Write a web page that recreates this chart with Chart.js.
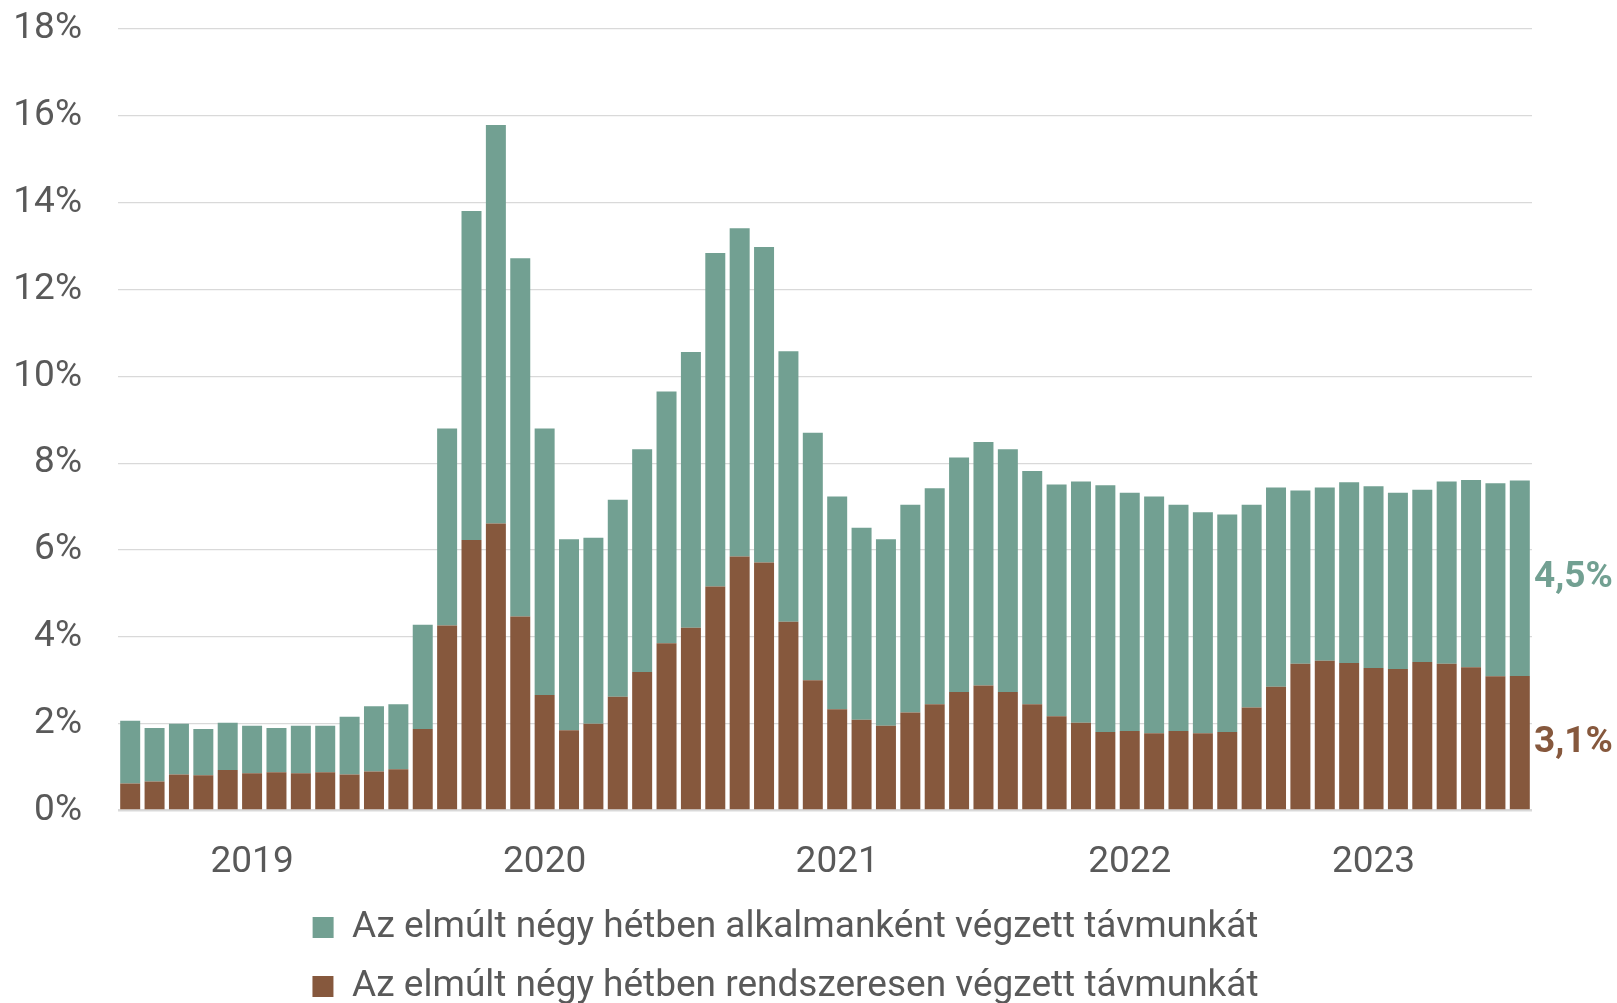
<!DOCTYPE html>
<html lang="hu">
<head>
<meta charset="utf-8">
<title>Távmunka</title>
<script src="https://cdn.jsdelivr.net/npm/chart.js@4.4.0/dist/chart.umd.min.js"></script>
<style>
  html, body { margin: 0; padding: 0; background: #fff; overflow: hidden; }
  #doboz { position: relative; width: 1617px; height: 1015px; }
</style>
</head>
<body>
<div id="doboz"><canvas id="myChart"></canvas></div>
<script>
// evek es a honapok, ahol a felirat all
var evek = ['2019', '2020', '2021', '2022', '2023'];
var evHelye = [5, 17, 29, 41, 51];

// rendszeresen vegzett tavmunka (%)
var rendszeres = [0.62, 0.67, 0.83, 0.81, 0.93, 0.86, 0.88, 0.86, 0.88, 0.83, 0.90, 0.95,
	1.88, 4.26, 6.23, 6.61, 4.47, 2.66, 1.85, 2.00, 2.62, 3.19, 3.85, 4.21,
	5.16, 5.85, 5.71, 4.35, 3.00, 2.33, 2.09, 1.95, 2.26, 2.45, 2.73, 2.88,
	2.73, 2.45, 2.17, 2.02, 1.81, 1.83, 1.78, 1.83, 1.78, 1.81, 2.37, 2.85,
	3.38, 3.45, 3.40, 3.28, 3.26, 3.42, 3.38, 3.30, 3.09, 3.1];

// alkalmankent vegzett tavmunka (%)
var alkalmi = [1.45, 1.23, 1.17, 1.07, 1.09, 1.09, 1.02, 1.09, 1.07, 1.33, 1.50, 1.50,
	2.40, 4.54, 7.58, 9.18, 8.25, 6.14, 4.40, 4.28, 4.54, 5.13, 5.80, 6.35,
	7.68, 7.56, 7.27, 6.23, 5.70, 4.90, 4.42, 4.30, 4.78, 4.97, 5.40, 5.61,
	5.59, 5.37, 5.34, 5.56, 5.68, 5.49, 5.45, 5.21, 5.09, 5.01, 4.67, 4.59,
	3.99, 3.99, 4.16, 4.19, 4.06, 3.97, 4.20, 4.31, 4.45, 4.5];

var yTickek = [0, 2, 4, 6, 8, 10, 12, 14, 16, 18];

var ZOLD = '#72a092';
var BARNA = '#86583d';
var SZURKE = '#595959';
var BETU = 37;

var cimkek = [];
for (var i = 0; i < rendszeres.length; i++) {
	cimkek[i] = '';
}
for (var j = 0; j < evek.length; j++) {
	cimkek[evHelye[j]] = evek[j];
}

function szazalek(v) {
	return v.toFixed(1).replace('.', ',') + '%';
}

// utolso oszlop ertekei jobbra, a szegmensek kozepen
var vegCimkek = {
	id: 'vegCimkek',
	afterLayout: function(chart) {
		// jelmagyarazat kicsit jobbra
		chart.legend.left += 12;
		chart.legend.right += 12;
	},
	afterDatasetsDraw: function(chart) {
		var ctx = chart.ctx;
		ctx.save();
		ctx.font = 'bold ' + BETU + 'px Roboto';
		ctx.textAlign = 'left';
		ctx.textBaseline = 'middle';
		chart.data.datasets.forEach(function(ds, k) {
			var meta = chart.getDatasetMeta(k);
			var n = ds.data.length - 1;
			var el = meta.data[n];
			ctx.fillStyle = ds.backgroundColor;
			ctx.fillText(szazalek(ds.data[n]), chart.chartArea.right + 2, (el.y + el.base) / 2);
		});
		ctx.restore();
	}
};

Chart.defaults.font.family = 'Roboto';
Chart.defaults.color = SZURKE;

var ctx = document.getElementById('myChart');
var myChart = new Chart(ctx, {
	type: 'bar',
	data: {
		labels: cimkek,
		datasets: [{
			label: 'Az elmúlt négy hétben rendszeresen végzett távmunkát',
			data: rendszeres,
			backgroundColor: BARNA,
			borderWidth: 0
		}, {
			label: 'Az elmúlt négy hétben alkalmanként végzett távmunkát',
			data: alkalmi,
			backgroundColor: ZOLD,
			borderWidth: 0
		}]
	},
	options: {
		responsive: true,
		maintainAspectRatio: false,
		animation: false,
		events: [],
		categoryPercentage: 0.82,
		barPercentage: 1,
		layout: { padding: { left: 15, right: 85, top: 29, bottom: 0 } },
		scales: {
			x: {
				stacked: true,
				grid: { display: false },
				border: { display: false },
				ticks: {
					autoSkip: false,
					maxRotation: 0,
					padding: 22,
					color: SZURKE,
					font: { size: BETU }
				},
				afterFit: function(scale) { scale.height = 76.5; }
			},
			y: {
				stacked: true,
				min: 0,
				max: 18,
				afterBuildTicks: function(scale) {
					scale.ticks = yTickek.map(function(v) { return { value: v }; });
				},
				grid: {
					drawTicks: false,
					color: '#d9d9d9',
					lineWidth: function(c) { return c.tick && c.tick.value === 0 ? 2.5 : 1.3; }
				},
				border: { display: false },
				ticks: {
					padding: 36,
					color: SZURKE,
					font: { size: BETU },
					callback: function(v) { return v + '%'; }
				},
				afterFit: function(scale) {
					scale.width = 103;
					scale.paddingTop = 0;
					scale.paddingBottom = 0;
				}
			}
		},
		plugins: {
			legend: {
				position: 'bottom',
				reverse: true,
				labels: {
					boxWidth: 21,
					boxHeight: 21,
					padding: 22,
					color: SZURKE,
					font: { size: BETU }
				}
			},
			tooltip: { enabled: false }
		}
	},
	plugins: [vegCimkek]
});
</script>
</body>
</html>
